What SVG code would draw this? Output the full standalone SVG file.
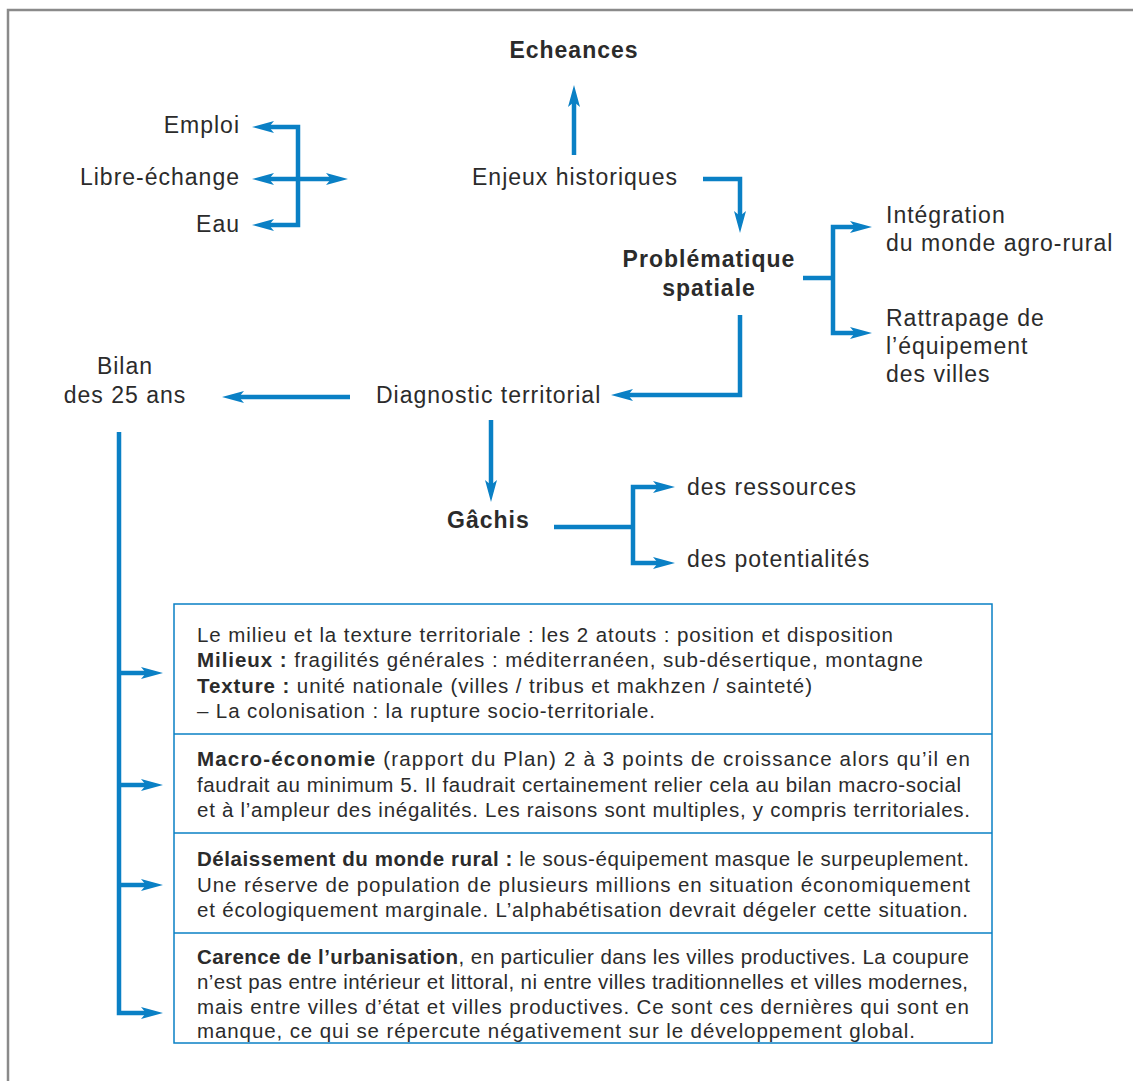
<svg xmlns="http://www.w3.org/2000/svg" width="1133" height="1081" viewBox="0 0 1133 1081">
<defs>
<style>
text{font-family:"Liberation Sans",Arial,Helvetica,sans-serif;fill:#2b2b2b}
.lbl{font-size:23px;letter-spacing:1px}
.b{font-weight:bold}
.box{font-size:20.5px}
.c{fill:none;stroke:#0a80c5;stroke-width:4.5}
.ae{marker-end:url(#ah)}
.as{marker-start:url(#ah)}
.frame{fill:none;stroke:#8a8a8a;stroke-width:2.5}
.bx{fill:#fff;stroke:#0a80c5;stroke-width:1.5}
</style>
<marker id="ah" markerUnits="userSpaceOnUse" markerWidth="30" markerHeight="20" refX="6" refY="7" orient="auto-start-reverse" overflow="visible">
<path d="M0,1 L22,7 L0,13 L5,7 Z" fill="#0a80c5"/>
</marker>
</defs>
<path class="frame" d="M8,1081 V10 H1133"/>

<g id="connectors">
<path class="c ae" d="M574,155 V101"/>
<path class="c ae" d="M703,179 H740 V217"/>
<path class="c as ae" d="M268,127 H298 V225 H268"/>
<path class="c as ae" d="M268,179 H332"/>
<path class="c" d="M803,278 H833"/>
<path class="c as ae" d="M856,227 H833 V333 H856"/>
<path class="c ae" d="M740,315 V395 H627"/>
<path class="c ae" d="M350,397 H238"/>
<path class="c ae" d="M491,420 V486"/>
<path class="c" d="M554,527 H633"/>
<path class="c as ae" d="M659,487 H633 V563 H659"/>
<path class="c ae" d="M119,432 V1013 H147"/>
<path class="c ae" d="M119,673 H147"/>
<path class="c ae" d="M119,785 H147"/>
<path class="c ae" d="M119,885 H147"/>
</g>

<g id="echeances"><text class="lbl b" x="574" y="58" text-anchor="middle">Echeances</text></g>
<g id="enjeux"><text class="lbl" x="472" y="185">Enjeux historiques</text></g>
<g id="emploi"><text class="lbl" x="240" y="133" text-anchor="end">Emploi</text></g>
<g id="libre-echange"><text class="lbl" x="240" y="185" text-anchor="end">Libre-échange</text></g>
<g id="eau"><text class="lbl" x="240" y="232" text-anchor="end">Eau</text></g>
<g id="problematique"><text class="lbl b" text-anchor="middle"><tspan x="709" y="267">Problématique</tspan><tspan x="709" y="296">spatiale</tspan></text></g>
<g id="integration"><text class="lbl"><tspan x="886" y="223">Intégration</tspan><tspan x="886" y="251">du monde agro-rural</tspan></text></g>
<g id="rattrapage"><text class="lbl"><tspan x="886" y="326">Rattrapage de</tspan><tspan x="886" y="354">l’équipement</tspan><tspan x="886" y="382">des villes</tspan></text></g>
<g id="diagnostic"><text class="lbl" x="376" y="403">Diagnostic territorial</text></g>
<g id="bilan"><text class="lbl" text-anchor="middle"><tspan x="125" y="374">Bilan</tspan><tspan x="125" y="403">des 25 ans</tspan></text></g>
<g id="gachis"><text class="lbl b" x="447" y="528">Gâchis</text></g>
<g id="ressources"><text class="lbl" x="687" y="495">des ressources</text></g>
<g id="potentialites"><text class="lbl" x="687" y="567">des potentialités</text></g>

<g id="bilan-box">
<rect class="bx" x="174" y="604" width="818" height="439"/>
<line x1="174" y1="734" x2="992" y2="734" stroke="#0a80c5" stroke-width="1.5"/>
<line x1="174" y1="833" x2="992" y2="833" stroke="#0a80c5" stroke-width="1.5"/>
<line x1="174" y1="933" x2="992" y2="933" stroke="#0a80c5" stroke-width="1.5"/>
<text class="box" x="197" y="642" textLength="696" lengthAdjust="spacing">Le milieu et la texture territoriale : les 2 atouts : position et disposition</text>
<text class="box" x="197" y="667" textLength="726" lengthAdjust="spacing"><tspan class="b">Milieux :</tspan> fragilités générales : méditerranéen, sub-désertique, montagne</text>
<text class="box" x="197" y="693" textLength="615" lengthAdjust="spacing"><tspan class="b">Texture :</tspan> unité nationale (villes / tribus et makhzen / sainteté)</text>
<text class="box" x="197" y="718" textLength="458" lengthAdjust="spacing">– La colonisation : la rupture socio-territoriale.</text>
<text class="box" x="197" y="766" textLength="773" lengthAdjust="spacing"><tspan class="b">Macro-économie</tspan> (rapport du Plan) 2 à 3 points de croissance alors qu’il en</text>
<text class="box" x="197" y="792" textLength="764" lengthAdjust="spacing">faudrait au minimum 5. Il faudrait certainement relier cela au bilan macro-social</text>
<text class="box" x="197" y="817" textLength="773" lengthAdjust="spacing">et à l’ampleur des inégalités. Les raisons sont multiples, y compris territoriales.</text>
<text class="box" x="197" y="866" textLength="772" lengthAdjust="spacing"><tspan class="b">Délaissement du monde rural :</tspan> le sous-équipement masque le surpeuplement.</text>
<text class="box" x="197" y="892" textLength="773" lengthAdjust="spacing">Une réserve de population de plusieurs millions en situation économiquement</text>
<text class="box" x="197" y="917" textLength="771" lengthAdjust="spacing">et écologiquement marginale. L’alphabétisation devrait dégeler cette situation.</text>
<text class="box" x="197" y="964" textLength="772" lengthAdjust="spacing"><tspan class="b">Carence de l’urbanisation</tspan>, en particulier dans les villes productives. La coupure</text>
<text class="box" x="197" y="989" textLength="771" lengthAdjust="spacing">n’est pas entre intérieur et littoral, ni entre villes traditionnelles et villes modernes,</text>
<text class="box" x="197" y="1014" textLength="772" lengthAdjust="spacing">mais entre villes d’état et villes productives. Ce sont ces dernières qui sont en</text>
<text class="box" x="197" y="1038" textLength="718" lengthAdjust="spacing">manque, ce qui se répercute négativement sur le développement global.</text>
</g>
</svg>
